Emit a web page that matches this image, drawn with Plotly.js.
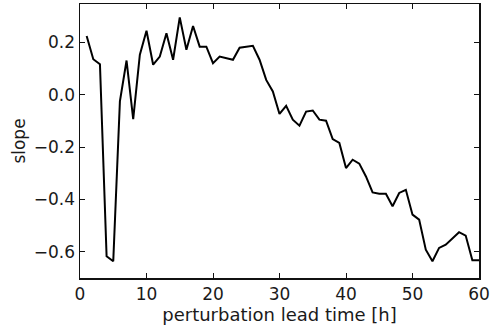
<!DOCTYPE html>
<html>
<head>
<meta charset="utf-8">
<script src="https://cdn.plot.ly/plotly-3.0.1.min.js"></script>
<style>html,body{margin:0;padding:0;background:#fff;}#chart{width:495px;height:326px;}</style>
</head>
<body>
<div id="chart"></div>
<script>
const leadTime = [1,2,3,4,5,6,7,8,9,10,11,12,13,14,15,16,17,18,19,20,21,22,23,24,25,26,27,28,29,30,31,32,33,34,35,36,37,38,39,40,41,42,43,44,45,46,47,48,49,50,51,52,53,54,55,56,57,58,59,60];
const slope = [0.225,0.136,0.117,-0.617,-0.636,-0.025,0.131,-0.093,0.153,0.245,0.115,0.146,0.235,0.134,0.296,0.172,0.263,0.184,0.184,0.121,0.146,0.140,0.134,0.180,0.184,0.187,0.134,0.057,0.013,-0.073,-0.042,-0.095,-0.118,-0.064,-0.060,-0.095,-0.099,-0.169,-0.184,-0.280,-0.248,-0.263,-0.312,-0.373,-0.378,-0.378,-0.426,-0.375,-0.363,-0.458,-0.477,-0.592,-0.636,-0.585,-0.573,-0.547,-0.525,-0.538,-0.632,-0.632];
const xTicks = [0,10,20,30,40,50,60];
const yTicks = [-0.6,-0.4,-0.2,0.0,0.2];

const font = {family: 'DejaVu Sans', size: 17, color: '#1a1a1a'};
const titleFont = {family: 'DejaVu Sans', size: 18, color: '#1a1a1a'};
Plotly.newPlot('chart', [{
  x: leadTime, y: slope, type: 'scatter', mode: 'lines',
  line: {color: '#000', width: 2}
}], {
  width: 495, height: 326,
  margin: {l: 80, r: 16, t: 4, b: 48},
  paper_bgcolor: '#fff', plot_bgcolor: '#fff',
  font: font,
  showlegend: false,
  xaxis: {
    range: [0, 60], tickvals: xTicks, ticks: 'inside', ticklen: 5, tickwidth: 1, tickcolor: '#111',
    showline: true, linecolor: '#111', linewidth: 1.5, mirror: 'ticks',
    showgrid: false, zeroline: false, tickfont: font,
    title: {text: 'perturbation lead time [h]', font: titleFont, standoff: 4}
  },
  yaxis: {
    range: [-0.7, 0.347], tickvals: yTicks, tickformat: '.1f', ticks: 'inside', ticklen: 5, tickwidth: 1, tickcolor: '#111',
    showline: true, linecolor: '#111', linewidth: 1.5, mirror: 'ticks',
    showgrid: false, zeroline: false, tickfont: font,
    title: {text: 'slope', font: font, standoff: 4}
  }
}, {displayModeBar: false, staticPlot: true});
</script>
</body>
</html>
